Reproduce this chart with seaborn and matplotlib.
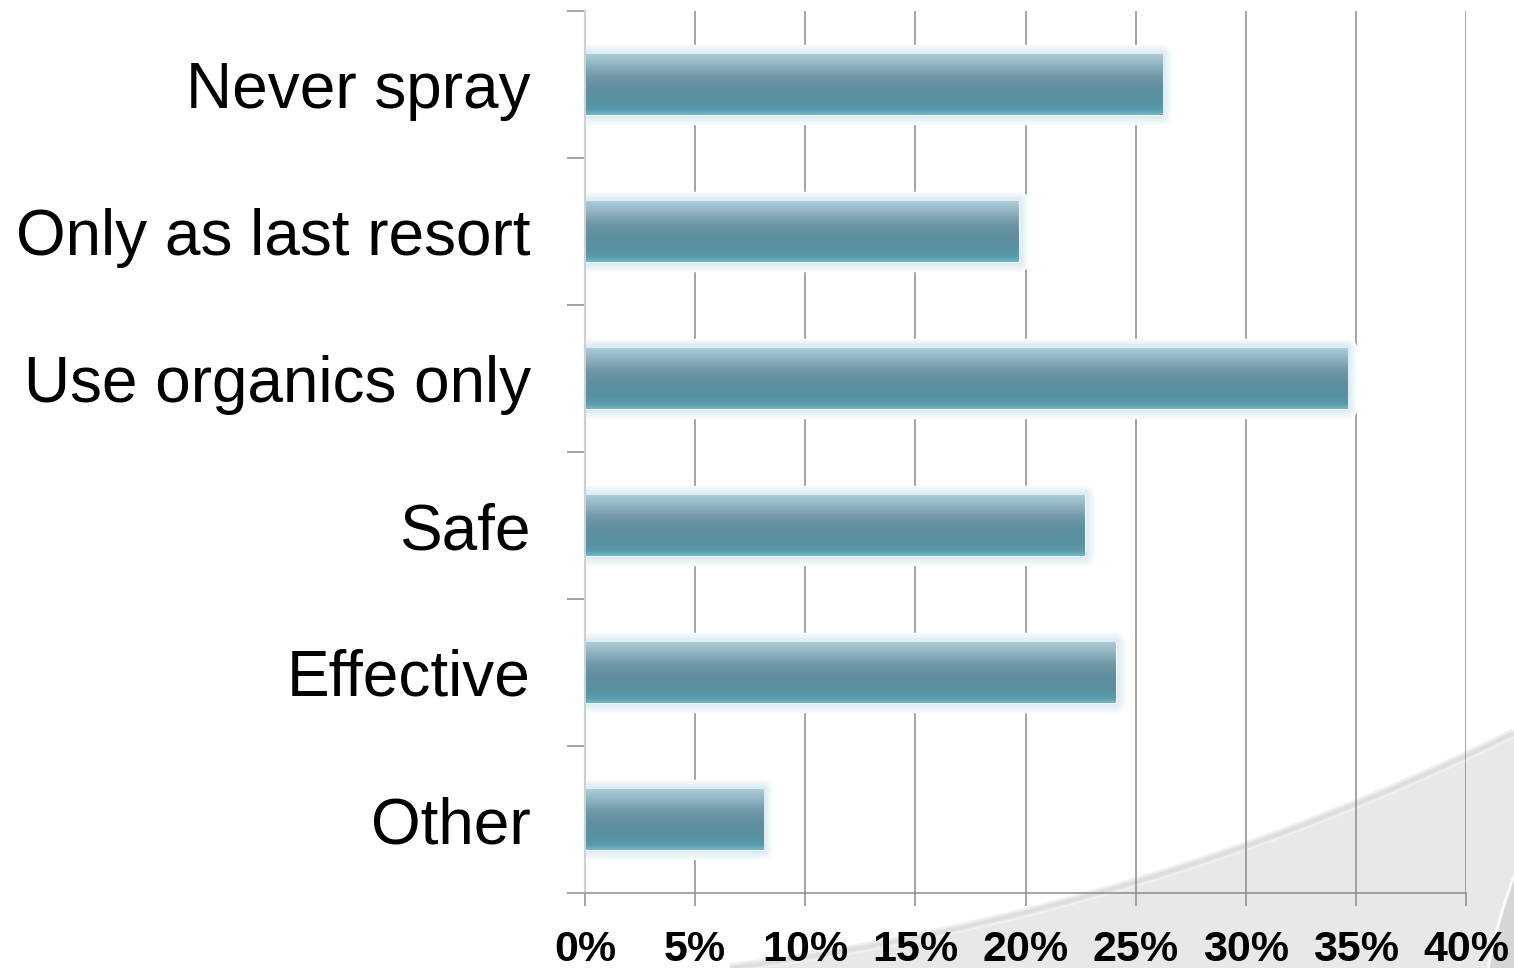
import numpy as np
import pandas as pd
import matplotlib
matplotlib.use("Agg")
import matplotlib.pyplot as plt
import seaborn as sns
from matplotlib.path import Path
from matplotlib.patches import PathPatch
import matplotlib.patheffects as pe
from matplotlib.colors import LinearSegmentedColormap

# ---- data ----
categories = ["Never spray", "Only as last resort", "Use organics only", "Safe", "Effective", "Other"]
values = [26.2, 19.7, 34.6, 22.7, 24.1, 8.1]
x_ticks = [0, 5, 10, 15, 20, 25, 30, 35, 40]
x_tick_labels = ["0%", "5%", "10%", "15%", "20%", "25%", "30%", "35%", "40%"]

sns.set_theme(style="white")
plt.rcParams["font.family"] = ["Liberation Sans", "DejaVu Sans"]

W, H = 1514, 968
fig = plt.figure(figsize=(W / 100, H / 100), dpi=100)
fig.patch.set_facecolor("white")

# ---- background swoosh decoration ----
bg = fig.add_axes([0, 0, 1, 1], zorder=0)
bg.set_xlim(0, W)
bg.set_ylim(H, 0)
bg.axis("off")
p0, p1, p2 = (730, 968), (1144, 915.5), (1514, 733)
verts = [p0, p1, p2, (1514, 968), p0]
codes = [Path.MOVETO, Path.CURVE3, Path.CURVE3, Path.LINETO, Path.CLOSEPOLY]
bg.add_patch(PathPatch(Path(verts, codes), facecolor="#e8e8e8", edgecolor="none"))
edge = Path([p0, p1, p2], [Path.MOVETO, Path.CURVE3, Path.CURVE3])
for lw, c in [(7, "#f0f0f0"), (4, "#e4e4e4"), (2, "#dddddd")]:
    bg.add_patch(PathPatch(edge, facecolor="none", edgecolor=c, lw=lw))
q0, q1, q2 = (1488, 968), (1499, 915), (1514, 876)
bg.add_patch(PathPatch(Path([q0, q1, q2, (1514, 968), q0],
                            [Path.MOVETO, Path.CURVE3, Path.CURVE3, Path.LINETO, Path.CLOSEPOLY]),
                       facecolor="#d6d6d6", edgecolor="none"))
bg.add_patch(PathPatch(Path([q0, q1, q2], [Path.MOVETO, Path.CURVE3, Path.CURVE3]),
                       facecolor="none", edgecolor="#fafafa", lw=2.2))

# ---- main axes ----
ax = fig.add_axes([585 / W, 1 - 893 / H, 881 / W, 882 / H], zorder=1)
ax.patch.set_alpha(0)

df = pd.DataFrame({"category": categories, "value": values})
sns.barplot(data=df, y="category", x="value", orient="h", width=0.41,
            color="#5e8e9e", saturation=1, ax=ax)

ax.set_xlim(0, 40)
ax.set_ylim(5.5, -0.5)

cmap = LinearSegmentedColormap.from_list("bar", [
    (0.0, "#abcbd7"), (0.15, "#95b6c3"), (0.35, "#7299a7"), (0.55, "#5f8f9e"),
    (0.8, "#5791a0"), (0.92, "#5a9cad"), (1.0, "#6cb9cd")])
grad = np.linspace(0, 1, 200).reshape(-1, 1)
glow = [(14, "#f8fcfd"), (12, "#f3f9fb"), (10, "#eef6f9"), (8, "#e8f3f7"),
        (6, "#e2f0f5"), (4, "#dcedf3"), (2, "#d4e8f0")]
for patch in ax.patches:
    x0, y0 = patch.get_x(), patch.get_y()
    w, h = patch.get_width(), patch.get_height()
    patch.set_path_effects([pe.Stroke(linewidth=lw, foreground=c, joinstyle="round")
                            for lw, c in glow] + [pe.Normal()])
    im = ax.imshow(grad, cmap=cmap, extent=(x0, x0 + w, y0 + h, y0), origin="upper",
                   aspect="auto", zorder=1.2, interpolation="bilinear")
    im.set_clip_path(patch)

ax.set_xlim(0, 40)
ax.set_ylim(5.5, -0.5)
ax.set_aspect("auto")

# grid & ticks
ax.set_xticks(x_ticks)
ax.set_xticklabels(x_tick_labels)
ax.set_axisbelow(True)
ax.grid(axis="x", color="#8c8c8c", lw=1.1)
ax.grid(axis="y", visible=False)
ax.xaxis.get_gridlines()[0].set_visible(False)

ax.tick_params(axis="x", which="major", bottom=True, length=9.4, width=1.1,
               color="#8c8c8c", pad=17, direction="out")
for lab in ax.get_xticklabels():
    lab.set_fontweight("bold")
    lab.set_fontsize(31)
    lab.set_color("black")

ax.set_yticks(range(len(categories)))
ax.set_yticklabels(categories)
ax.set_yticks(np.arange(-0.5, len(categories), 1), minor=True)
ax.tick_params(axis="y", which="major", left=True, length=0, pad=39, labelsize=46,
               labelcolor="black")
ax.tick_params(axis="y", which="minor", left=True, length=13, width=1.1,
               color="#8c8c8c", direction="out")

ax.set_xlabel("")
ax.set_ylabel("")
for s in ["top", "right"]:
    ax.spines[s].set_visible(False)
ax.spines["left"].set_color("#d0d0d0")
ax.spines["left"].set_linewidth(1.5)
ax.spines["bottom"].set_color("#8c8c8c")
ax.spines["bottom"].set_linewidth(1.1)

fig.savefig("out.png", dpi=100)
